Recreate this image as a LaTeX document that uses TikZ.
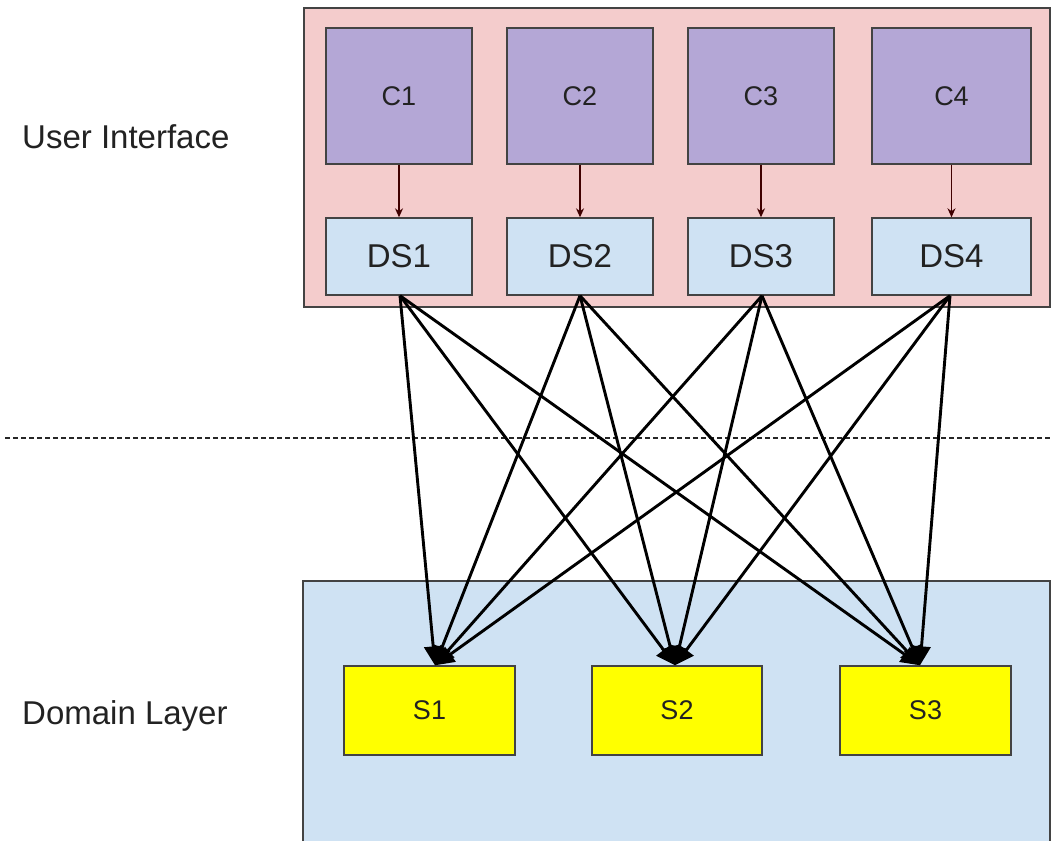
\documentclass[tikz,border=0pt]{standalone}
\usepackage{fontspec}
\setmainfont{Liberation Sans}
\usetikzlibrary{arrows.meta}

\definecolor{uibg}{HTML}{F4CCCC}
\definecolor{dombg}{HTML}{CFE2F3}
\definecolor{ctrl}{HTML}{B4A7D6}
\definecolor{dsfill}{HTML}{CFE2F3}
\definecolor{svc}{HTML}{FFFF00}
\definecolor{edge}{HTML}{434343}
\definecolor{ink}{HTML}{222222}

\tikzset{
  layer/.style={draw=edge, line width=1.3pt, inner sep=0pt},
  ctrlbox/.style={draw=edge, fill=ctrl, line width=1.4pt, text=ink,
    font=\fontsize{27}{31}\selectfont, inner sep=0pt},
  dsbox/.style={draw=edge, fill=dsfill, line width=1.4pt, text=ink,
    font=\fontsize{33}{38}\selectfont, inner sep=0pt},
  svcbox/.style={draw=edge, fill=svc, line width=1.4pt, text=ink,
    font=\fontsize{27}{31}\selectfont, inner sep=0pt},
  caption/.style={text=ink, font=\fontsize{33}{38}\selectfont, anchor=west, inner sep=0pt},
  feed/.style={draw=black!75!red, line width=1.3pt, -{Stealth[length=9pt,width=8pt]}},
  call/.style={draw=black, line width=2.9pt, -{Triangle[length=19pt,width=18pt]}},
}

\begin{document}
\begin{tikzpicture}[x=1pt, y=-1pt]
\useasboundingbox (0,0) rectangle (1053,841);
\fill[white] (0,0) rectangle (1053,841);

% layer backgrounds
\node[layer, fill=uibg, minimum width=746, minimum height=299] (ui) at (677,157.5) {};
\node[layer, fill=dombg, minimum width=747, minimum height=262] (dom) at (676.5,712) {};

% layer captions
\node[caption] (uilabel) at (22,137) {User Interface};
\node[caption] (domlabel) at (22,716) {Domain Layer};

% separator between the layers
\coordinate (sepL) at (5,438);
\coordinate (sepR) at (1053,438);
\draw[black!85, line width=1.3pt, dash pattern=on 5pt off 3pt] (sepL) -- (sepR);

% controllers
\node[ctrlbox, minimum width=146, minimum height=136] (c1) at (399,96) {C1};
\node[ctrlbox, minimum width=146, minimum height=136] (c2) at (580,96) {C2};
\node[ctrlbox, minimum width=146, minimum height=136] (c3) at (761,96) {C3};
\node[ctrlbox, minimum width=159, minimum height=136] (c4) at (951.5,96) {C4};

% data sources
\node[dsbox, minimum width=146, minimum height=77] (ds1) at (399,256.5) {DS1};
\node[dsbox, minimum width=146, minimum height=77] (ds2) at (580,256.5) {DS2};
\node[dsbox, minimum width=146, minimum height=77] (ds3) at (761,256.5) {DS3};
\node[dsbox, minimum width=159, minimum height=77] (ds4) at (951.5,256.5) {DS4};

% services
\node[svcbox, minimum width=171, minimum height=89] (s1) at (429.5,710.5) {S1};
\node[svcbox, minimum width=170, minimum height=89] (s2) at (677,710.5) {S2};
\node[svcbox, minimum width=171, minimum height=89] (s3) at (925.5,710.5) {S3};

% controller -> data source
\draw[feed] (c1.south) -- (ds1.north);
\draw[feed] (c2.south) -- (ds2.north);
\draw[feed] (c3.south) -- (ds3.north);
\draw[feed] (c4.south) -- (ds4.north);

% every data source calls every service
\foreach \d/\dx in {1/1,2/0,3/1,4/-1.5}{
  \foreach \s/\sx in {1/5.5,2/-2,3/-5.5}{
    \draw[call] ([xshift=\dx pt]ds\d.south) -- ([xshift=\sx pt]s\s.north);
  }
}
\end{tikzpicture}
\end{document}
